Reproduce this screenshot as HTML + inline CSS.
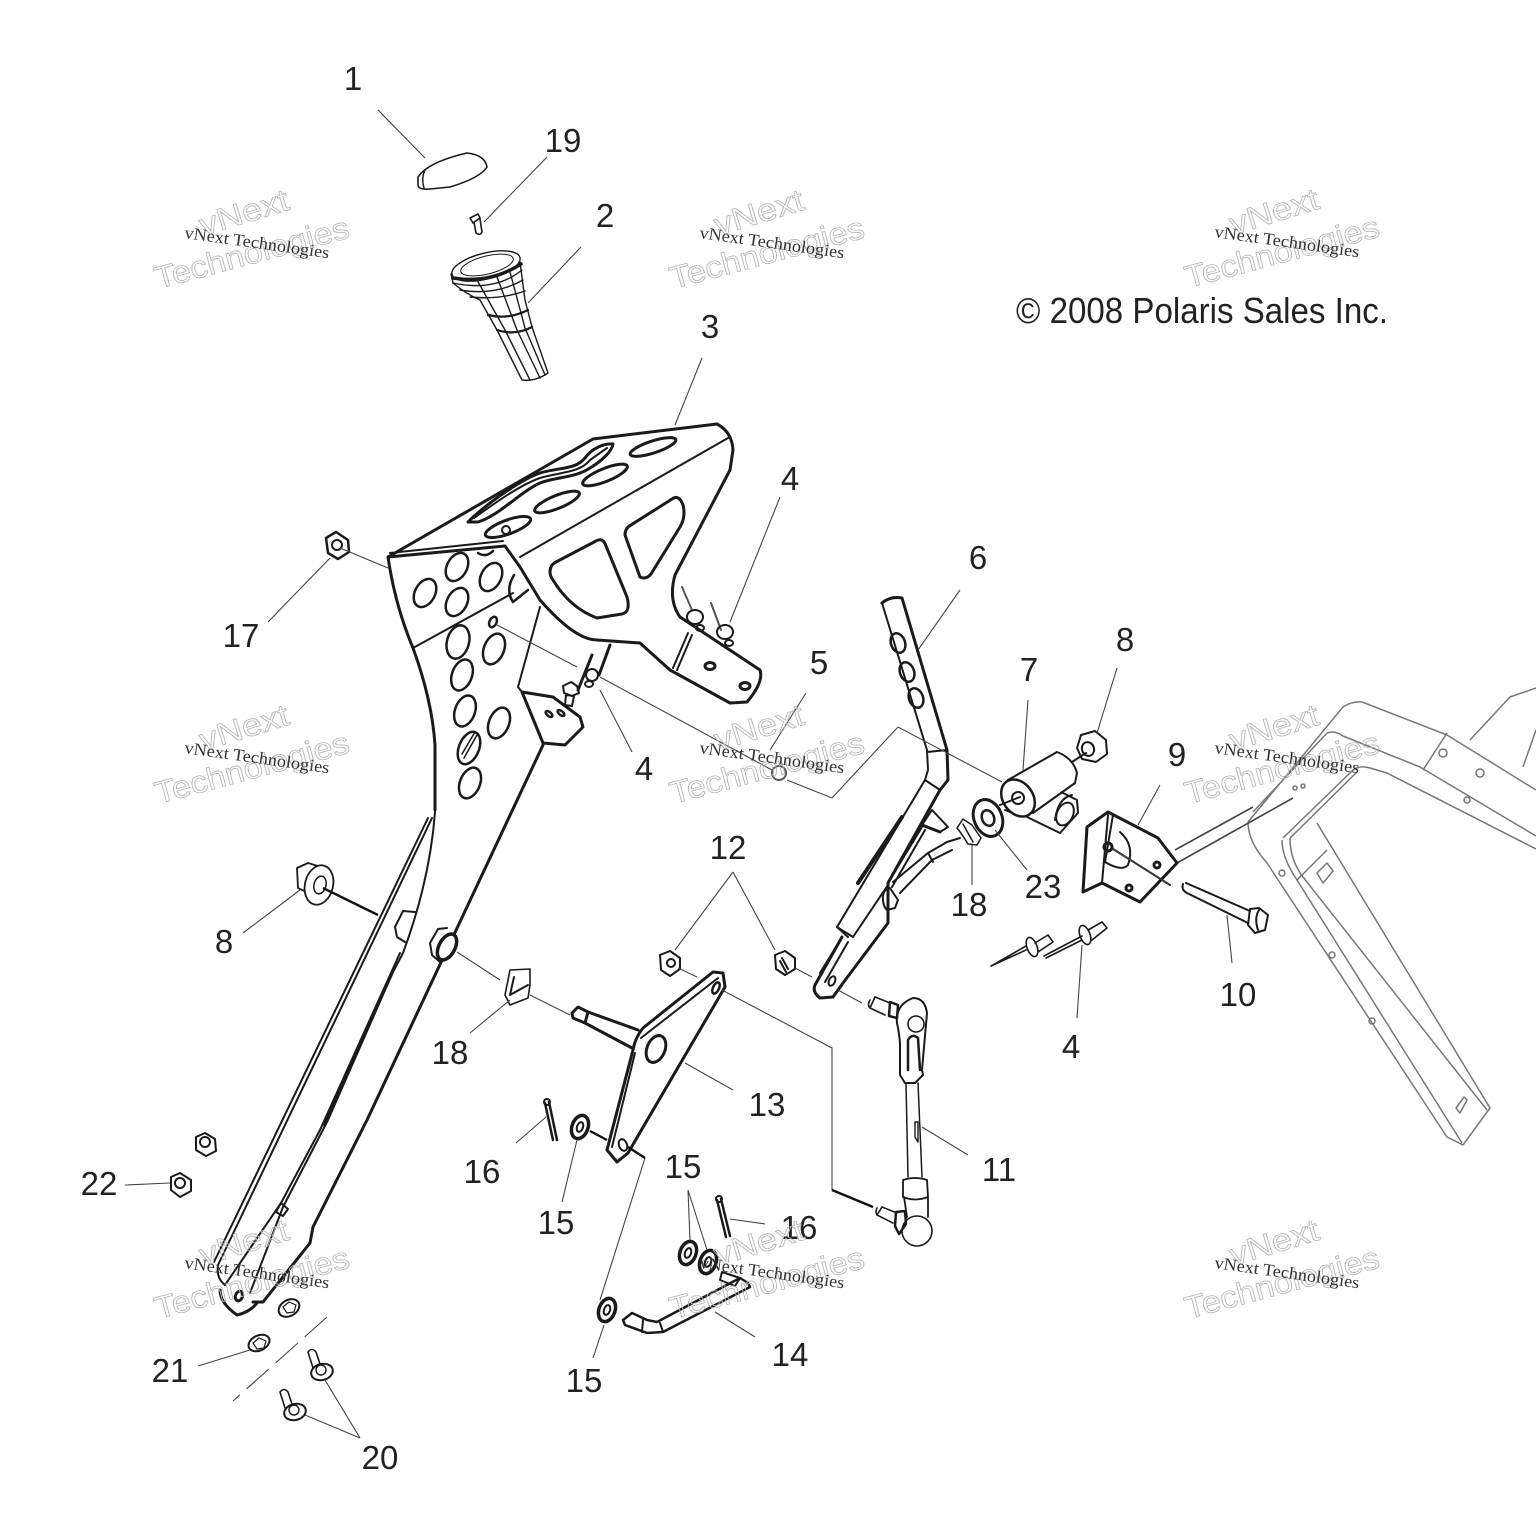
<!DOCTYPE html>
<html><head><meta charset="utf-8"><style>
html,body{margin:0;padding:0;background:#fff}
svg{display:block}
.p{fill:none;stroke:#1a1a1a;stroke-width:2;stroke-linejoin:round;stroke-linecap:round}
.t{stroke-width:3}
.f{fill:#fff;stroke:#1a1a1a;stroke-width:2;stroke-linejoin:round}
.l{fill:none;stroke:#444;stroke-width:1.1}
.g{fill:none;stroke:#777;stroke-width:1.5;stroke-linejoin:round}
.n{font:33px "Liberation Sans",sans-serif;fill:#222;text-anchor:middle}
.w1{font:31px "Liberation Sans",sans-serif;fill:none;stroke:#b5b5b5;stroke-width:.8}
.w2{font:17px "Liberation Serif",serif;fill:#333}
</style></head><body>
<svg width="1536" height="1536" viewBox="0 0 1536 1536" xmlns="http://www.w3.org/2000/svg">
<rect width="1536" height="1536" fill="#fff"/>

<!-- right frame -->
<g class="g">
<path d="M1248 822L1343 707Q1352 701 1362 702L1447 735L1536 790"/>
<path d="M1253 812L1327 733Q1335 730 1343 736L1420 767L1536 836"/>
<path d="M1283 838L1353 770Q1360 765 1370 768L1387 773L1536 849"/>
<path d="M1290 838L1357 772"/>
<path d="M1248 822Q1248 842 1267 863L1447 1137L1463 1145L1490 1108L1317 823"/>
<path d="M1282 840Q1282 858 1297 880L1462 1143"/>
<path d="M1290 838Q1290 860 1303 877L1487 1110"/>
<path d="M1297 880L1327 850"/>
<path d="M1470 740L1510 697L1536 688M1523 767L1536 730M1447 733L1423 770"/>
<path d="M1317 873l10-10 6 8-10 12zM1456 1108l8-11 3 3-7 13z"/>
<circle cx="1443" cy="753" r="4"/><circle cx="1480" cy="773" r="4"/><circle cx="1467" cy="800" r="3"/>
<circle cx="1282" cy="873" r="3"/><circle cx="1332" cy="955" r="3"/><circle cx="1372" cy="1021" r="3"/>
<circle cx="1295" cy="788" r="2"/><circle cx="1303" cy="786" r="2"/>
</g>
<path class="l" d="M1175 850L1253 807M1177 863L1293 798" style="stroke-width:1.6"/>

<!-- main pedestal -->
<g class="p">
<path class="t" d="M388 557L593 439L717 424Q732 432 733 450L730 470L675 575Q668 600 680 617L760 670Q764 682 747 702L730 703L670 670L640 643L597 640Q575 640 540 600L520 567L505 546L388 557"/>
<path d="M520 557L728 438"/>
<path class="t" d="M388 557Q395 605 413 648Q432 700 435 745L435 810"/>
<path d="M432 818L218 1265Q216 1278 225 1285M428 818L214 1262"/>
<path d="M413 648L513 593"/>
<path d="M540 607L518 687L522 692"/>
<path class="t" d="M522 692L553 697L580 717L583 727L565 745L543 743L522 692"/>
<path class="t" d="M543 745L367 1120L313 1227L310 1243L263 1302L253 1302"/>
<path d="M435 812Q430 880 403 953L393 972L328 1120L283 1207L250 1293"/>
<path d="M400 953L320 1130L281 1203L225 1285M393 972L324 1125"/>
<path d="M281 1203L288 1209L283 1216L276 1212z"/>
<path class="t" d="M220 1290Q220 1303 237 1315Q250 1312 257 1303"/>
<ellipse cx="239" cy="1296" rx="3.5" ry="5" transform="rotate(20 239 1296)" stroke-width="3"/>
<!-- top plate slots -->
<path class="t" d="M468 522C485 505 520 480 540 473C560 467 575 470 585 458C592 448 605 443 613 444C612 452 600 462 590 468C575 478 555 477 540 483C520 492 500 515 478 522Z"/>
<path d="M474 518C495 503 520 485 540 478C560 472 580 473 590 460L607 448"/>
<ellipse cx="653" cy="447" rx="24" ry="6" transform="rotate(-18 653 447)" stroke-width="3"/>
<ellipse cx="605" cy="475" rx="24" ry="6.5" transform="rotate(-22 605 475)" stroke-width="3"/>
<ellipse cx="557" cy="502" rx="24" ry="6.5" transform="rotate(-22 557 502)" stroke-width="3"/>
<ellipse cx="508" cy="527" rx="24" ry="7" transform="rotate(-20 508 527)" stroke-width="3"/>
<circle cx="506" cy="530" r="4"/>
<path d="M390 553L503 541"/>
<!-- cutouts -->
<path class="t" d="M550 572Q550 565 556 562L596 541Q603 537 606 546L627 597Q631 612 622 614L597 618Q570 608 553 580Q550 576 550 572z"/>
<path class="t" d="M625 535Q625 528 631 525L672 499Q679 494 683 505Q686 517 680 527L651 574Q646 580 640 577z"/>
<path d="M688 633L673 668M692 635L677 670"/>
<ellipse cx="710" cy="666" rx="5" ry="3.5" stroke-width="3"/>
<ellipse cx="745" cy="686" rx="5" ry="3.5" stroke-width="3"/>
<ellipse cx="549" cy="714" rx="2" ry="4" transform="rotate(-50 549 714)" stroke-width="2.5"/>
<ellipse cx="561" cy="713" rx="2" ry="4" transform="rotate(-50 561 713)" stroke-width="2.5"/>
<!-- holes -->
<g stroke-width="2.5">
<ellipse cx="425" cy="593" rx="10" ry="15" transform="rotate(28 425 593)"/>
<ellipse cx="457" cy="567" rx="10" ry="15" transform="rotate(28 457 567)"/>
<ellipse cx="491" cy="577" rx="10" ry="15" transform="rotate(28 491 577)"/>
<ellipse cx="457" cy="602" rx="10" ry="15" transform="rotate(28 457 602)"/>
<path d="M478 553Q486 558 493 551"/>
<path d="M514 575Q505 590 513 602L528 590"/>
<ellipse cx="458" cy="642" rx="11" ry="17" transform="rotate(15 458 642)"/>
<ellipse cx="494" cy="649" rx="10" ry="16" transform="rotate(22 494 649)"/>
<ellipse cx="462" cy="675" rx="10" ry="16" transform="rotate(20 462 675)"/>
<ellipse cx="465" cy="711" rx="10" ry="16" transform="rotate(20 465 711)"/>
<ellipse cx="499" cy="723" rx="10" ry="16" transform="rotate(22 499 723)"/>
<ellipse cx="469" cy="748" rx="10" ry="17" transform="rotate(22 469 748)"/>
<path d="M464 758L477 735M462 754L475 732" stroke-width="1.5"/>
<ellipse cx="470" cy="783" rx="10" ry="16" transform="rotate(22 470 783)"/>
<ellipse cx="493" cy="622" rx="3.5" ry="5.5" transform="rotate(25 493 622)"/>
</g>
<!-- boss -->
<path d="M415 912L403 911L395 927L397 937L405 942"/>
<path d="M447 928L438 929L430 943L432 955L440 962" stroke-width="2"/>
<ellipse cx="447" cy="947" rx="8" ry="14" transform="rotate(28 447 947)" fill="#fff" stroke-width="3.5"/>
<!-- rivets near pedestal -->
<path d="M592 655L578 690M610 645L599 675" stroke-width="3"/>
<path d="M563 686l8-4 6 4 2 7-7 3-8-3zM566 695l8 1-2 10-7-1z"/>
<ellipse cx="592" cy="675" rx="6" ry="6"/><ellipse cx="589" cy="684" rx="4" ry="3"/>
<path d="M682 587L692 610M711 603L721 630" stroke-width="2" stroke="#555"/>
<ellipse cx="695" cy="617" rx="8" ry="7"/><ellipse cx="700" cy="628" rx="4" ry="3"/>
<ellipse cx="725" cy="632" rx="8" ry="7"/><ellipse cx="729" cy="643" rx="4" ry="3"/>

<!-- part 1 cap -->
<path d="M418 177Q428 162 467 153Q485 155 487 167Q480 178 450 187L430 189Q418 190 418 185z" stroke-width="1.6"/>
<path d="M425 170Q421 178 424 188" stroke-width="1.4"/>
<!-- screw 19 -->
<path d="M470 218l8-4 2 4-7 5zM474 222L476 233Q480 236 482 232L480 219" stroke-width="1.6"/>
<!-- knob -->
<g stroke-width="1.4">
<ellipse cx="486" cy="266" rx="35" ry="13" transform="rotate(-14 486 266)"/>
<ellipse cx="487" cy="265" rx="27" ry="9" transform="rotate(-14 487 265)" stroke-width="1"/>
<path d="M451 274L453 283Q466 294 480 300L497 330L522 380Q535 382 548 373L532 327L525 300L520 262"/>
<path d="M453 278Q490 284 521 264" stroke-width="3.5"/>
<path d="M453 283Q495 292 522 270M460 290Q495 296 523 280M470 297Q500 300 525 291"/>
<path d="M488 315Q508 320 528 310M497 330Q515 336 532 327" stroke-width="2.2"/>
<path d="M477 280L505 330L530 380M497 277L517 330L540 378M510 272L525 328L545 375"/>
</g>
<!-- lever 6 -->
<path class="t" d="M882 603Q890 596 902 598L947 750L948 780L940 790L888 883L888 923L843 983L833 997L820 998Q812 992 815 985L842 937"/>
<path d="M882 603L927 750L928 770L925 780L837 927L853 937L888 885"/>
<path d="M837 927L848 937M842 937L820 973M848 942L825 982M927 752L947 750M925 780L940 790"/>
<path d="M858 883L902 817" stroke-width="4"/>
<path d="M888 883L922 827M892 887L925 830"/>
<path class="f" d="M922 825L932 810L948 827L940 832z"/>
<path d="M922 825L940 832" stroke-width="3"/>
<ellipse cx="832" cy="981" rx="3" ry="5" transform="rotate(25 832 981)"/>
<ellipse cx="898" cy="643" rx="7" ry="10" transform="rotate(-20 898 643)" stroke-width="2.5"/>
<ellipse cx="907" cy="672" rx="7" ry="10" transform="rotate(-20 907 672)" stroke-width="2.5"/>
<ellipse cx="916" cy="698" rx="7" ry="10" transform="rotate(-20 916 698)" stroke-width="2.5"/>
<path d="M893 882L928 853L947 842L960 838M900 893L932 860L952 850M928 853L933 862"/>
<path d="M883 895Q885 888 890 888L898 900L895 908L887 910Q882 905 883 895z"/>
<!-- washer 23 -->
<ellipse cx="988" cy="818" rx="14" ry="19" transform="rotate(-22 988 818)" stroke-width="3"/>
<ellipse cx="988" cy="818" rx="6" ry="8" transform="rotate(-22 988 818)" stroke-width="2.5"/>
<!-- clip -->
<path d="M957 828L963 819L972 825L981 838L977 845L968 844Q962 834 957 828z" stroke-width="1.5"/>
<path d="M963 824L973 842" stroke-width="1.5"/>
<!-- 7 -->
<ellipse cx="1018" cy="798" rx="15" ry="20" transform="rotate(-35 1018 798)" stroke-width="2.5"/>
<circle cx="1018" cy="798" r="6"/>
<path d="M1008 780L1057 752Q1073 758 1077 773L1075 783L1033 813"/>
<path d="M1027 817L1060 833L1078 813L1077 800L1063 793"/>
<ellipse cx="1065" cy="814" rx="8" ry="12" transform="rotate(25 1065 814)"/>
<path d="M1055 820Q1058 798 1072 795"/>
<path d="M1000 805L1020 797M1072 762L1086 753M1005 810L1010 812"/>
<!-- nut 8 right -->
<path d="M1081 735L1095 731L1106 740L1107 754L1096 762L1082 759L1077 748z"/>
<ellipse cx="1088" cy="749" rx="6" ry="7" transform="rotate(-20 1088 749)"/>
<!-- bracket 9 -->
<path class="t" d="M1087 827L1108 812L1158 838L1177 863L1140 902L1120 892L1102 883L1083 892L1087 827z"/>
<path d="M1108 815L1102 883M1113 815L1105 862Q1122 872 1128 865Q1135 845 1120 832"/>
<circle cx="1108" cy="847" r="4" stroke-width="3"/><circle cx="1157" cy="865" r="3" stroke-width="3"/><circle cx="1129" cy="888" r="3" stroke-width="3"/>
<path d="M1113 849L1170 885"/>
<!-- bolt 10 -->
<path d="M1186 883L1250 911M1183 884Q1181 890 1187 893L1248 923"/>
<path d="M1250 909L1259 908L1268 915L1265 930L1255 933L1248 925z"/>
<path d="M1259 910Q1254 918 1258 930"/>
<!-- rivets 4 right -->
<g stroke-width="1.6">
<path d="M991 966L1026 950M993 965L1026 946"/>
<ellipse cx="1032" cy="947" rx="5" ry="10" transform="rotate(-20 1032 947)"/>
<path d="M1035 943L1048 935L1053 942L1038 952"/>
<path d="M1044 956L1082 936M1046 958L1082 940"/>
<ellipse cx="1085" cy="935" rx="5" ry="10" transform="rotate(-20 1085 935)"/>
<path d="M1088 930L1102 922L1107 928L1092 940"/>
</g>
<!-- rod 11 -->
<path d="M875 997L890 1003M870 1008L885 1015M870 1000Q867 1005 870 1008L875 997" stroke-width="1.6"/>
<path d="M890 1002L898 1005L897 1018L889 1016z" stroke-width="2.5"/>
<path d="M897 1023Q895 1005 913 998Q925 998 927 1013L922 1070L923 1075L915 1083L905 1083L900 1075L900 1043Q899 1032 897 1023z" stroke-width="2"/>
<circle cx="916" cy="1024" r="8" stroke-width="1.6"/>
<path d="M908 1070L908 1040Q912 1033 918 1038L920 1070" stroke-width="2.5"/>
<path d="M906 1083L908 1177M918 1083L922 1177" stroke-width="1.5"/>
<path d="M915 1122L918 1122L918 1142L915 1137z" stroke-width="1.4"/>
<path d="M903 1180Q915 1176 927 1180L928 1197Q915 1202 903 1197z" stroke-width="1.8"/>
<path d="M904 1197L907 1217M928 1197L928 1217" stroke-width="1.8"/>
<circle cx="917" cy="1231" r="15" fill="#fff" stroke-width="1.6"/>
<path d="M882 1207L897 1213M877 1215L893 1223M877 1208Q875 1212 877 1215L882 1207" stroke-width="1.6"/>
<path d="M896 1212L905 1211L906 1224L899 1234L895 1226z" stroke-width="2.5"/>
<!-- nuts 12 -->
<path d="M660 955L670 951L680 958L680 969L670 976L661 970z"/><circle cx="671" cy="963" r="4"/>
<path d="M775 955L785 951L795 958L795 969L785 975L776 969z"/><path d="M782 958L788 969M780 961L786 972"/>
<!-- nut 17 -->
<path d="M326 538L336 532L348 540L349 552L338 559L328 553z" stroke-width="2.5"/><circle cx="337" cy="545" r="5"/>
<!-- 8 left -->
<path d="M297 868L308 863L318 866L312 895L298 888z" stroke-width="1.8"/>
<ellipse cx="319" cy="885" rx="14" ry="20" transform="rotate(14 319 885)" fill="#fff" stroke-width="1.8"/>
<ellipse cx="320" cy="885" rx="6" ry="9" transform="rotate(14 320 885)" stroke-width="1.5"/>
<!-- 18 left -->
<path d="M510 970L530 969L530 985L528 998L510 1005L505 995z" stroke-width="1.6"/>
<path d="M514 977L510 995L528 985"/>
<!-- plate 13 -->
<path class="t" d="M633 1050Q635 1038 643 1028L713 972L723 973L725 987L628 1153L617 1162L607 1150z"/>
<path d="M641 1038L718 978M612 1147L635 1053"/>
<ellipse cx="656" cy="1049" rx="9" ry="14" transform="rotate(22 656 1049)" stroke-width="3"/>
<ellipse cx="716" cy="988" rx="3" ry="6" transform="rotate(25 716 988)" stroke-width="2.5"/>
<ellipse cx="623" cy="1145" rx="4" ry="6" transform="rotate(-20 623 1145)"/>
<path class="t" d="M572 1013L578 1007L588 1012L638 1030M572 1013L573 1018L585 1023L632 1048M588 1012L585 1023"/>
<!-- pins -->
<path d="M545 1103L553 1140M549 1102L557 1140" stroke-width="2.5"/>
<circle cx="547" cy="1102" r="3"/>
<path d="M717 1200L726 1237M721 1199L730 1236" stroke-width="2.5"/>
<circle cx="719" cy="1199" r="3"/>
<!-- washers -->
<g stroke-width="3.5">
<ellipse cx="580" cy="1127" rx="8" ry="12" transform="rotate(20 580 1127)"/><ellipse cx="580" cy="1127" rx="3" ry="5" transform="rotate(20 580 1127)" stroke-width="2"/>
<ellipse cx="688" cy="1253" rx="8" ry="12" transform="rotate(20 688 1253)"/><ellipse cx="688" cy="1253" rx="3" ry="5" transform="rotate(20 688 1253)" stroke-width="2"/>
<ellipse cx="708" cy="1262" rx="8" ry="12" transform="rotate(20 708 1262)"/><ellipse cx="708" cy="1262" rx="3" ry="5" transform="rotate(20 708 1262)" stroke-width="2"/>
<ellipse cx="607" cy="1310" rx="8" ry="12" transform="rotate(20 607 1310)"/><ellipse cx="607" cy="1310" rx="3" ry="5" transform="rotate(20 607 1310)" stroke-width="2"/>
</g>
<!-- rod 14 -->
<path d="M625 1325L623 1320L632 1313L647 1320L657 1322L740 1278L748 1283L750 1287L663 1332L647 1333L625 1325z" stroke-width="2.5"/>
<path d="M643 1320L642 1332M660 1323L663 1332M722 1272L720 1280L735 1286L740 1278L722 1272"/>
<!-- flange nuts 22 -->
<path d="M196 1137L205 1133L215 1139L216 1151L206 1156L196 1150z" stroke-width="2"/><circle cx="205" cy="1142" r="5"/>
<path d="M171 1177L180 1173L191 1180L191 1191L180 1197L171 1190z" stroke-width="2"/><circle cx="180" cy="1183" r="5"/>
<!-- flat nuts -->
<ellipse cx="289" cy="1308" rx="11" ry="8" transform="rotate(-30 289 1308)"/><path d="M283 1307l6-5 7 3-2 7-7 1z" stroke-width="1.2"/>
<ellipse cx="259" cy="1343" rx="11" ry="7.5" transform="rotate(-25 259 1343)"/><path d="M253 1343l6-5 7 3-2 7-7 1z" stroke-width="1.2"/>
<!-- bolts 20 -->
<path d="M308 1352Q312 1347 316 1352L320 1364M308 1352L313 1368" stroke-width="1.6"/>
<ellipse cx="322" cy="1372" rx="11" ry="8" transform="rotate(-15 322 1372)"/><circle cx="321" cy="1370" r="5" stroke-width="1.4"/>
<path d="M280 1392Q284 1387 288 1392L292 1404M280 1392L285 1408" stroke-width="1.6"/>
<ellipse cx="295" cy="1412" rx="11" ry="8" transform="rotate(-15 295 1412)"/><circle cx="294" cy="1410" r="5" stroke-width="1.4"/>
<!-- washer 5 -->
<circle cx="779" cy="773" r="7" stroke="#555"/>
</g>

<!-- leaders and assembly lines -->
<g class="l">
<path d="M378 110L425 158M547 157L484 222M581 247L528 303M702 358L675 425M780 497L730 622M268 622L330 558M340 548L388 568"/>
<path d="M960 590L918 650M806 693L770 750M1028 700L1023 770M1117 668L1097 733M1160 785L1138 825M1027 870L995 830"/>
<path d="M972 885L972 845M1232 963L1227 915M1077 1018L1082 945M968 1155L922 1127M733 872L675 950M733 872L775 950M733 1090L685 1063"/>
<path d="M755 1337L715 1312M516 1143L546 1117M562 1202L577 1140M765 1224L730 1219M688 1190L690 1240M688 1190L707 1250M593 1358L604 1325"/>
<path d="M198 1366L250 1350M360 1438L325 1380M360 1438L305 1415M125 1185L170 1183M243 933L300 890M470 1033L510 1000M632 752L600 690"/>
<path d="M497 625L577 667M600 677L772 770M787 780L832 798L898 727L1002 782"/>
<path d="M457 952L500 980M530 995L570 1015M678 968L697 977M722 990L832 1048L832 1190"/>
<path d="M795 968L812 977M838 990L862 1003M645 1158L600 1300M1113 849L1170 885"/>
<path d="M327 1317L233 1401" stroke-dasharray="30 9"/>
<path d="M323 888L378 915M832 1190L873 1207M590 1131L607 1140M628 1147L645 1158" style="stroke:#111;stroke-width:2.4"/>
</g>

<!-- labels -->
<g class="n">
<text x="353" y="90">1</text><text x="563" y="152">19</text><text x="605" y="227">2</text><text x="710" y="338">3</text>
<text x="790" y="490">4</text><text x="978" y="569">6</text><text x="241" y="647">17</text><text x="819" y="674">5</text>
<text x="1125" y="651">8</text><text x="1029" y="681">7</text><text x="644" y="780">4</text><text x="1177" y="766">9</text>
<text x="728" y="859">12</text><text x="1043" y="898">23</text><text x="969" y="916">18</text><text x="224" y="953">8</text>
<text x="1238" y="1006">10</text><text x="450" y="1064">18</text><text x="1071" y="1058">4</text><text x="767" y="1116">13</text>
<text x="482" y="1183">16</text><text x="999" y="1181">11</text><text x="683" y="1178">15</text><text x="99" y="1195">22</text>
<text x="556" y="1234">15</text><text x="799" y="1239">16</text><text x="790" y="1366">14</text><text x="170" y="1382">21</text>
<text x="584" y="1392">15</text><text x="380" y="1469">20</text>
</g>
<text x="1016" y="323" font-family="Liberation Sans,sans-serif" font-size="36" fill="#222" textLength="372" lengthAdjust="spacingAndGlyphs">© 2008 Polaris Sales Inc.</text>

<!-- watermarks -->
<g transform="translate(0,0)"><text class="w1" transform="translate(203,236) rotate(-17)" textLength="92" lengthAdjust="spacingAndGlyphs">vNext</text><text class="w1" transform="translate(158,289) rotate(-15)" textLength="200" lengthAdjust="spacingAndGlyphs">Technologies</text><text class="w2" transform="translate(184,238) rotate(8)" textLength="146" lengthAdjust="spacingAndGlyphs">vNext Technologies</text></g>
<g transform="translate(515,0)"><text class="w1" transform="translate(203,236) rotate(-17)" textLength="92" lengthAdjust="spacingAndGlyphs">vNext</text><text class="w1" transform="translate(158,289) rotate(-15)" textLength="200" lengthAdjust="spacingAndGlyphs">Technologies</text><text class="w2" transform="translate(184,238) rotate(8)" textLength="146" lengthAdjust="spacingAndGlyphs">vNext Technologies</text></g>
<g transform="translate(1030,-1)"><text class="w1" transform="translate(203,236) rotate(-17)" textLength="92" lengthAdjust="spacingAndGlyphs">vNext</text><text class="w1" transform="translate(158,289) rotate(-15)" textLength="200" lengthAdjust="spacingAndGlyphs">Technologies</text><text class="w2" transform="translate(184,238) rotate(8)" textLength="146" lengthAdjust="spacingAndGlyphs">vNext Technologies</text></g>
<g transform="translate(0,515)"><text class="w1" transform="translate(203,236) rotate(-17)" textLength="92" lengthAdjust="spacingAndGlyphs">vNext</text><text class="w1" transform="translate(158,289) rotate(-15)" textLength="200" lengthAdjust="spacingAndGlyphs">Technologies</text><text class="w2" transform="translate(184,238) rotate(8)" textLength="146" lengthAdjust="spacingAndGlyphs">vNext Technologies</text></g>
<g transform="translate(515,515)"><text class="w1" transform="translate(203,236) rotate(-17)" textLength="92" lengthAdjust="spacingAndGlyphs">vNext</text><text class="w1" transform="translate(158,289) rotate(-15)" textLength="200" lengthAdjust="spacingAndGlyphs">Technologies</text><text class="w2" transform="translate(184,238) rotate(8)" textLength="146" lengthAdjust="spacingAndGlyphs">vNext Technologies</text></g>
<g transform="translate(1030,515)"><text class="w1" transform="translate(203,236) rotate(-17)" textLength="92" lengthAdjust="spacingAndGlyphs">vNext</text><text class="w1" transform="translate(158,289) rotate(-15)" textLength="200" lengthAdjust="spacingAndGlyphs">Technologies</text><text class="w2" transform="translate(184,238) rotate(8)" textLength="146" lengthAdjust="spacingAndGlyphs">vNext Technologies</text></g>
<g transform="translate(0,1030)"><text class="w1" transform="translate(203,236) rotate(-17)" textLength="92" lengthAdjust="spacingAndGlyphs">vNext</text><text class="w1" transform="translate(158,289) rotate(-15)" textLength="200" lengthAdjust="spacingAndGlyphs">Technologies</text><text class="w2" transform="translate(184,238) rotate(8)" textLength="146" lengthAdjust="spacingAndGlyphs">vNext Technologies</text></g>
<g transform="translate(515,1030)"><text class="w1" transform="translate(203,236) rotate(-17)" textLength="92" lengthAdjust="spacingAndGlyphs">vNext</text><text class="w1" transform="translate(158,289) rotate(-15)" textLength="200" lengthAdjust="spacingAndGlyphs">Technologies</text><text class="w2" transform="translate(184,238) rotate(8)" textLength="146" lengthAdjust="spacingAndGlyphs">vNext Technologies</text></g>
<g transform="translate(1030,1030)"><text class="w1" transform="translate(203,236) rotate(-17)" textLength="92" lengthAdjust="spacingAndGlyphs">vNext</text><text class="w1" transform="translate(158,289) rotate(-15)" textLength="200" lengthAdjust="spacingAndGlyphs">Technologies</text><text class="w2" transform="translate(184,238) rotate(8)" textLength="146" lengthAdjust="spacingAndGlyphs">vNext Technologies</text></g>
</svg>
</body></html>
